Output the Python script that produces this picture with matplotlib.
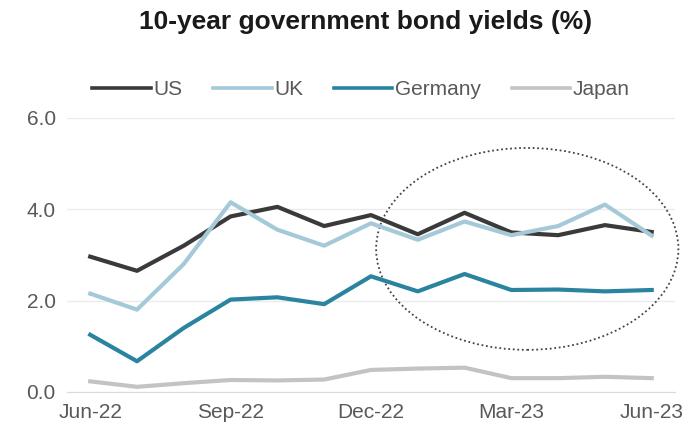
import matplotlib.pyplot as plt
from matplotlib.patches import Ellipse

plt.rcParams['font.family'] = ['Liberation Sans', 'DejaVu Sans']

months = ['Jun-22', 'Jul-22', 'Aug-22', 'Sep-22', 'Oct-22', 'Nov-22', 'Dec-22',
          'Jan-23', 'Feb-23', 'Mar-23', 'Apr-23', 'May-23', 'Jun-23']
us = [2.96, 2.65, 3.20, 3.84, 4.05, 3.63, 3.87, 3.45, 3.92, 3.49, 3.43, 3.65, 3.50]
uk = [2.15, 1.80, 2.80, 4.15, 3.55, 3.20, 3.69, 3.33, 3.73, 3.43, 3.63, 4.10, 3.42]
germany = [1.25, 0.67, 1.40, 2.02, 2.07, 1.92, 2.53, 2.20, 2.58, 2.23, 2.24, 2.20, 2.23]
japan = [0.23, 0.11, 0.19, 0.26, 0.25, 0.27, 0.48, 0.51, 0.53, 0.30, 0.30, 0.33, 0.30]

x = list(range(len(months)))

fig = plt.figure(figsize=(6.96, 4.33), dpi=100)
ax = fig.add_axes([0.096, 0.095, 0.874, 0.633])

ax.plot(x, us, color='#3a3a3a', lw=3, label='US')
ax.plot(x, uk, color='#a6c9d9', lw=3, label='UK')
ax.plot(x, germany, color='#2b849f', lw=3, label='Germany')
ax.plot(x, japan, color='#c3c3c3', lw=3, label='Japan')

# dotted ring round the last few months
ax.add_patch(Ellipse((9.34, 3.13), 6.46, 4.42, fill=False, ls=(0, (1, 1.5)),
                     lw=1.3, color='#444444', clip_on=False))

ax.set_xlim(-0.5, 12.5)
ax.set_ylim(0, 6)
ax.set_yticks([0, 2, 4, 6])
ax.set_yticklabels(['0.0', '2.0', '4.0', '6.0'])
ax.set_xticks([0, 3, 6, 9, 12])
ax.set_xticklabels([months[i] for i in [0, 3, 6, 9, 12]])
ax.tick_params(length=0, labelsize=15, colors='#595959', pad=8)
ax.grid(axis='y', color='#ebebeb', lw=1)
ax.set_axisbelow(True)
for s in ['top', 'right', 'left']:
    ax.spines[s].set_visible(False)
ax.spines['bottom'].set_color('#d9d9d9')

leg = ax.legend(loc='lower center', bbox_to_anchor=(0.484, 1.0), ncol=4, frameon=False,
                fontsize=15, handlelength=2.8, handletextpad=0.15, columnspacing=1.45,
                labelcolor='#595959')
for h in leg.get_lines():
    h.set_linewidth(2.6)

fig.text(0.525, 0.933, '10-year government bond yields (%)', ha='center', va='baseline',
         fontsize=19, fontweight='bold', color='#1a1a1a')

plt.savefig('out.png')
